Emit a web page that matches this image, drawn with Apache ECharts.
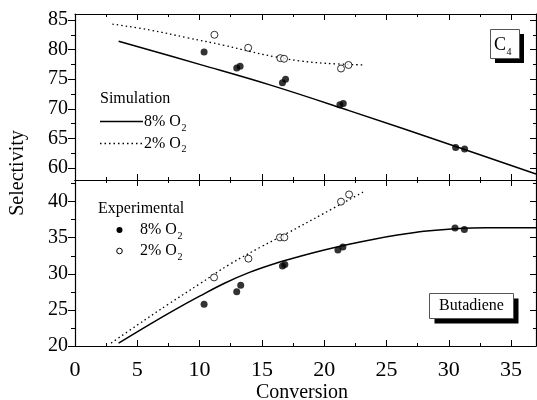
<!DOCTYPE html>
<html>
<head>
<meta charset="utf-8">
<script src="https://cdn.jsdelivr.net/npm/echarts@6.0.0/dist/echarts.min.js"></script>
<style>
  html, body { margin: 0; padding: 0; background: #fff; }
  #chart { width: 537px; height: 400px; }
</style>
</head>
<body>
<div id="chart"></div>
<script>
// ---- C4 selectivity (upper panel) ----
const c4Sim8X = [3.5, 10, 15.7, 22, 30.5, 37];
const c4Sim8Y = [81.4, 77.5, 74.0, 69.7, 63.7, 59.0];
const c4Sim2X = [3, 6, 9, 12, 14, 16, 18, 20, 23.2];
const c4Sim2Y = [84.3, 83.3, 82.0, 80.7, 79.7, 78.8, 78.1, 77.7, 77.4];
const c4Exp8X = [10.36, 12.98, 13.25, 16.65, 16.9, 21.26, 21.53, 30.55, 31.27];
const c4Exp8Y = [79.6, 76.9, 77.2, 74.4, 75.0, 70.7, 70.9, 63.5, 63.25];
const c4Exp2X = [11.19, 13.9, 16.48, 16.78, 21.35, 21.95];
const c4Exp2Y = [82.5, 80.3, 78.55, 78.45, 76.8, 77.4];

// ---- Butadiene selectivity (lower panel) ----
const buSim8X = [3.5, 6, 8, 10, 12, 14, 16, 18, 20, 22, 24, 26, 28, 30.5, 33, 37];
const buSim8Y = [20.4, 23.0, 25.0, 26.9, 28.7, 30.2, 31.4, 32.4, 33.3, 34.1, 34.8, 35.4, 35.9, 36.25, 36.4, 36.4];
const buSim2X = [2.9, 5, 7.5, 10, 12.4, 15, 17, 20, 23.2];
const buSim2Y = [20.4, 22.9, 25.8, 28.6, 31.3, 33.8, 35.6, 38.4, 41.4];
const buExp8X = [10.36, 12.98, 13.3, 16.65, 16.84, 21.1, 21.5, 30.5, 31.25];
const buExp8Y = [25.8, 27.5, 28.4, 31.1, 31.3, 33.3, 33.7, 36.35, 36.15];
const buExp2X = [11.16, 13.92, 16.45, 16.8, 21.35, 22.0];
const buExp2Y = [29.5, 32.1, 35.05, 35.05, 40.0, 41.0];

// ---- ticks ----
const xMajor = [0, 5, 10, 15, 20, 25, 30, 35];
const xMinor = [2.5, 7.5, 12.5, 17.5, 22.5, 27.5, 32.5];
const c4Major = [60, 65, 70, 75, 80, 85];
const c4Minor = [62.5, 67.5, 72.5, 77.5, 82.5];
const buMajor = [20, 25, 30, 35, 40];
const buMinor = [22.5, 27.5, 32.5, 37.5, 42.5];

const FONT = "'Liberation Serif', 'Times New Roman', serif";
const zip = (xs, ys) => xs.map((x, i) => [x, ys[i]]);

function xAxisDef(grid, pos, vals, len, withLine, withLabels) {
  return {
    type: 'value', gridIndex: grid, position: pos, min: 0, max: 37,
    axisLine: { show: withLine, onZero: false, lineStyle: { color: '#000', width: 1.2 } },
    axisTick: { show: true, inside: true, length: len, customValues: vals,
                lineStyle: { color: '#000', width: 1 } },
    axisLabel: withLabels
      ? { show: true, customValues: vals, fontFamily: FONT, fontSize: 22, color: '#000', margin: 13 }
      : { show: false },
    splitLine: { show: false }
  };
}
function yAxisDef(grid, pos, min, max, vals, len, inside, withLine, withLabels) {
  return {
    type: 'value', gridIndex: grid, position: pos, min: min, max: max,
    axisLine: { show: withLine, onZero: false, lineStyle: { color: '#000', width: 1.2 } },
    axisTick: { show: true, inside: inside, length: len, customValues: vals,
                lineStyle: { color: '#000', width: 1 } },
    axisLabel: withLabels
      ? { show: true, customValues: vals, fontFamily: FONT, fontSize: 20, color: '#000', margin: 7 }
      : { show: false },
    splitLine: { show: false }
  };
}

const xAxes = [];
const yAxes = [];
// upper panel (grid 0)
xAxes.push(xAxisDef(0, 'bottom', xMajor, 6, true, false));
xAxes.push(xAxisDef(0, 'bottom', xMinor, 3, false, false));
xAxes.push(xAxisDef(0, 'top', xMajor, 6, true, false));
xAxes.push(xAxisDef(0, 'top', xMinor, 3, false, false));
yAxes.push(yAxisDef(0, 'left', 58, 86, c4Major, 7, false, true, true));
yAxes.push(yAxisDef(0, 'left', 58, 86, c4Minor, 4, false, false, false));
yAxes.push(yAxisDef(0, 'right', 58, 86, c4Major, 6, true, true, false));
yAxes.push(yAxisDef(0, 'right', 58, 86, c4Minor, 3, true, false, false));
// lower panel (grid 1)
xAxes.push(xAxisDef(1, 'bottom', xMajor, 6, true, true));
xAxes.push(xAxisDef(1, 'bottom', xMinor, 3, false, false));
xAxes.push(xAxisDef(1, 'top', xMajor, 6, true, false));
xAxes.push(xAxisDef(1, 'top', xMinor, 3, false, false));
yAxes.push(yAxisDef(1, 'left', 20, 43, buMajor, 7, false, true, true));
yAxes.push(yAxisDef(1, 'left', 20, 43, buMinor, 4, false, false, false));
yAxes.push(yAxisDef(1, 'right', 20, 43, buMajor, 6, true, true, false));
yAxes.push(yAxisDef(1, 'right', 20, 43, buMinor, 3, true, false, false));

function curve(xi, yi, xs, ys, dotted) {
  return {
    type: 'line', xAxisIndex: xi, yAxisIndex: yi, data: zip(xs, ys),
    smooth: 0.4, showSymbol: false, silent: true, z: 2,
    lineStyle: { color: '#000', width: dotted ? 1.3 : 1.5, type: dotted ? [1.5, 3] : 'solid' }
  };
}
function points(xi, yi, xs, ys, filled) {
  return {
    type: 'scatter', xAxisIndex: xi, yAxisIndex: yi, data: zip(xs, ys),
    symbol: 'circle', symbolSize: 7, z: 3,
    itemStyle: filled ? { color: '#000' } : { color: '#fff', borderColor: '#000', borderWidth: 1 }
  };
}

const series = [
  curve(0, 0, c4Sim8X, c4Sim8Y, false),
  curve(0, 0, c4Sim2X, c4Sim2Y, true),
  points(0, 0, c4Exp8X, c4Exp8Y, true),
  points(0, 0, c4Exp2X, c4Exp2Y, false),
  curve(4, 4, buSim8X, buSim8Y, false),
  curve(4, 4, buSim2X, buSim2Y, true),
  points(4, 4, buExp8X, buExp8Y, true),
  points(4, 4, buExp2X, buExp2Y, false)
];

// text width helper, used to place subscripts after their base text
const measureCtx = document.createElement('canvas').getContext('2d');
function textWidth(str, size) {
  measureCtx.font = size + 'px ' + FONT;
  return measureCtx.measureText(str).width;
}
function plainText(x, y, str, size, align) {
  return { type: 'text', x: x, y: y,
    style: { text: str, fontFamily: FONT, fontSize: size, fill: '#000', align: align || 'left', verticalAlign: 'middle' } };
}
// base text followed by a lowered, smaller subscript
function subText(x, yMid, main, sub, size, subSize, drop) {
  const w = textWidth(main, size);
  return [
    plainText(x, yMid, main, size),
    plainText(x + w + 0.5, yMid + drop, sub, subSize)
  ];
}
function shadowBox(x, y, w, h, off) {
  return [
    { type: 'rect', shape: { x: x + off, y: y + off, width: w, height: h }, style: { fill: '#000' } },
    { type: 'rect', shape: { x: x, y: y, width: w, height: h }, style: { fill: '#fff', stroke: '#555', lineWidth: 1 } }
  ];
}

const graphic = [
  // simulation legend
  plainText(100, 99, 'Simulation', 16),
  { type: 'line', shape: { x1: 100, y1: 121.5, x2: 143, y2: 121.5 }, style: { stroke: '#000', lineWidth: 1.5 } },
  ...subText(144, 122, '8% O', '2', 16, 10, 6),
  { type: 'line', shape: { x1: 100, y1: 143.5, x2: 143, y2: 143.5 }, style: { stroke: '#000', lineWidth: 1.3, lineDash: [1.5, 3] } },
  ...subText(144, 143.5, '2% O', '2', 16, 10, 6),
  // experimental legend
  plainText(98, 208.5, 'Experimental', 16),
  { type: 'circle', shape: { cx: 119.5, cy: 230, r: 3 }, style: { fill: '#000' } },
  ...subText(140, 230, '8% O', '2', 16, 10, 6),
  { type: 'circle', shape: { cx: 119.5, cy: 251, r: 2.8 }, style: { fill: '#fff', stroke: '#000', lineWidth: 1 } },
  ...subText(140, 251, '2% O', '2', 16, 10, 6),
  // panel tags
  ...shadowBox(490.5, 29.5, 29, 29, 4.5),
  ...subText(494, 45.5, 'C', '4', 18, 10, 7),
  ...shadowBox(429.5, 293.5, 84, 25, 5),
  plainText(471.5, 305.5, 'Butadiene', 16, 'center'),
  // axis titles
  plainText(302, 393, 'Conversion', 20, 'center'),
  { type: 'text', x: 18, y: 173, rotation: Math.PI / 2,
    style: { text: 'Selectivity', fontFamily: FONT, fontSize: 20, fill: '#000', align: 'center', verticalAlign: 'middle' } }
];

const chart = echarts.init(document.getElementById('chart'), null, { renderer: 'canvas' });
chart.setOption({
  animation: false,
  backgroundColor: '#fff',
  grid: [
    { left: 75, top: 14, width: 461, height: 166 },
    { left: 75, top: 180, width: 461, height: 166 }
  ],
  xAxis: xAxes,
  yAxis: yAxes,
  series: series,
  graphic: graphic
});
</script>
</body>
</html>
